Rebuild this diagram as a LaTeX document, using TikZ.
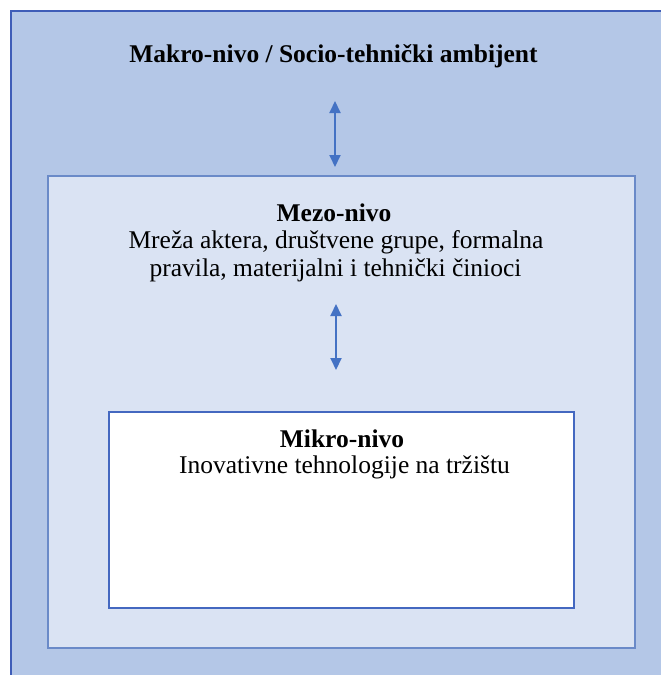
\documentclass[tikz,border=0pt]{standalone}
\usepackage{fontspec}
\setmainfont{Liberation Serif}
\usetikzlibrary{arrows.meta}
\definecolor{outerfill}{HTML}{B4C7E7}
\definecolor{outerline}{HTML}{3F5DB8}
\definecolor{midfill}{HTML}{DAE3F3}
\definecolor{midline}{HTML}{6A8AC8}
\definecolor{innerline}{HTML}{4468C0}
\definecolor{arrowcol}{HTML}{4472C4}
\tikzset{
  txt/.style={anchor=base, inner sep=0pt, font=\fontsize{25.5}{29}\selectfont},
  bold/.style={txt, font=\fontsize{25.5}{29}\selectfont\bfseries},
  link/.style={draw=arrowcol, line width=2pt, {Triangle[width=11pt,length=12pt]}-{Triangle[width=11pt,length=12pt]}}
}
\begin{document}
\begin{tikzpicture}[x=1pt,y=-1pt]
\useasboundingbox (0,0) rectangle (661,675);
\fill[white] (0,0) rectangle (661,675);
\fill[outerfill] (11,11) rectangle (661,675);
\draw[draw=outerline, line width=2.5pt] (11,675) -- (11,11) -- (661,11);
\node[draw=midline, fill=midfill, line width=2pt, inner sep=0pt, minimum width=587pt, minimum height=472pt, anchor=north west] (mezo) at (47,175) {};
\node[draw=innerline, fill=white, line width=2pt, inner sep=0pt, minimum width=465pt, minimum height=196pt, anchor=north west] (mikro) at (108,411) {};
\node[bold] (makrotitle) at (333.5,62) {Makro-nivo / Socio-tehnički ambijent};
\node[bold] (mezotitle) at (334,221) {Mezo-nivo};
\node[txt] (mezo1) at (336,248.5) {Mreža aktera, društvene grupe, formalna};
\node[txt] (mezo2) at (335.5,276) {pravila, materijalni i tehnički činioci};
\node[bold] (mikrotitle) at (342,447) {Mikro-nivo};
\node[txt] (mikro1) at (344.5,473) {Inovativne tehnologije na tržištu};
\coordinate (a1top) at (335,101);
\coordinate (a1bot) at (335,167);
\coordinate (a2top) at (336,304);
\coordinate (a2bot) at (336,370);
\draw[link] (a1top) -- (a1bot);
\draw[link] (a2top) -- (a2bot);
\end{tikzpicture}
\end{document}
